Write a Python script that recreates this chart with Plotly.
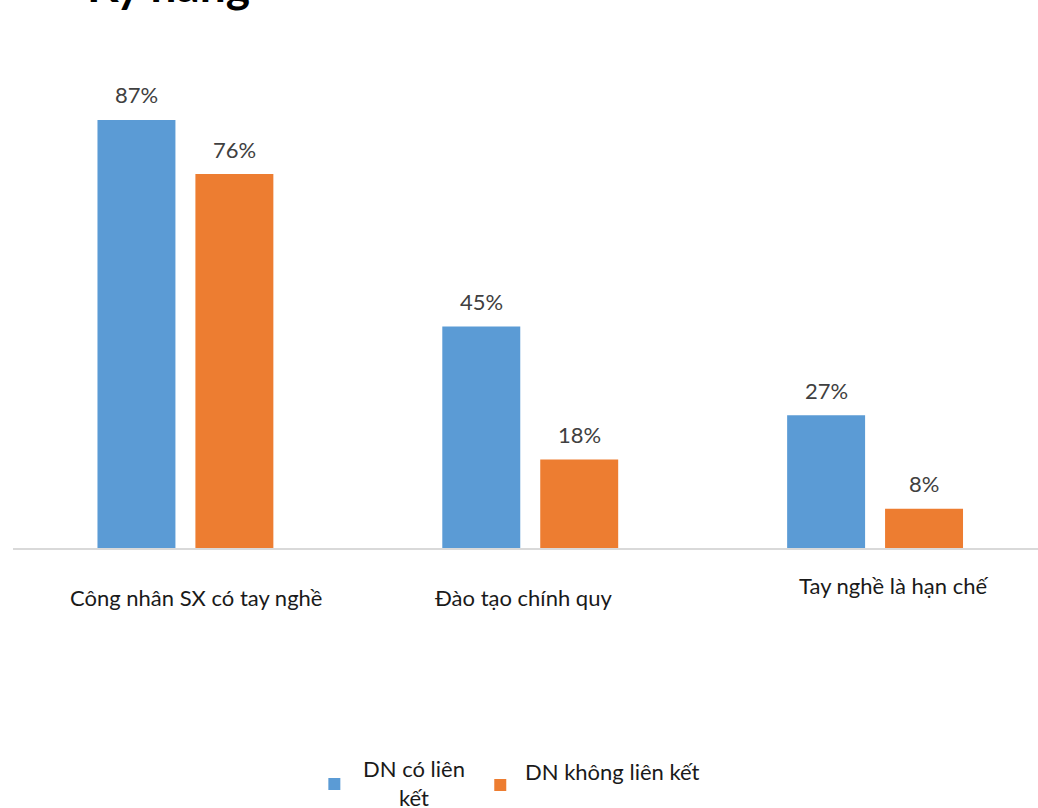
import plotly.graph_objects as go

# Data
categories = ["Công nhân SX có tay nghề", "Đào tạo chính quy", "Tay nghề là hạn chế"]
series_names = ["DN có liên kết", "DN không liên kết"]
linked = [0.87, 0.45, 0.27]
unlinked = [0.76, 0.18, 0.08]
title_text = "Kỹ năng"

BLUE = "#5B9BD5"
ORANGE = "#ED7D31"
FONT = "Lato, 'Open Sans', sans-serif"
FS = 22

W, H = 1038, 808
L, T, B = 12.5, 56, 260
PLOT_W = W - L
PLOT_H = H - T - B


def px(x):
    return (x - L) / PLOT_W


def py(y):
    return (H - B - y) / PLOT_H


fig = go.Figure()
fig.add_trace(go.Bar(x=categories, y=linked, name=series_names[0],
                     marker=dict(color=BLUE, line=dict(width=0))))
fig.add_trace(go.Bar(x=categories, y=unlinked, name=series_names[1],
                     marker=dict(color=ORANGE, line=dict(width=0))))

annotations = []
# value labels above each bar
for vals, shift in ((linked, -49), (unlinked, 49)):
    for cat, v in zip(categories, vals):
        annotations.append(dict(
            x=cat, y=v, xref="x", yref="y", text=f"{v:.0%}", showarrow=False,
            xshift=shift, yshift=25, yanchor="middle",
            font=dict(family=FONT, size=FS, color="#404040")))

# category labels under the axis
cat_label_pos = [(11, 597), (-7, 597), (18, 585)]
for cat, (dx, yy) in zip(categories, cat_label_pos):
    annotations.append(dict(
        x=cat, xref="x", y=py(yy), yref="paper", text=cat, showarrow=False,
        xshift=dx, yanchor="middle",
        font=dict(family=FONT, size=FS, color="#1a1a1a")))

# chart title (sits at the very top edge)
annotations.append(dict(
    x=px(168), y=py(-16), xref="paper", yref="paper", text=f"<b>{title_text}</b>",
    showarrow=False, xanchor="center", yanchor="middle",
    font=dict(family=FONT, size=46, color="#000000")))

# legend
legend_items = [
    (BLUE, 334, 784, series_names[0].replace("liên ", "liên<br>"), 414, 783),
    (ORANGE, 500, 785, series_names[1], 612, 771),
]
shapes = []
for color, sx, sy, label, tx, ty in legend_items:
    shapes.append(dict(type="rect", xref="paper", yref="paper",
                       x0=px(sx - 6), x1=px(sx + 6), y0=py(sy + 6), y1=py(sy - 6),
                       fillcolor=color, line=dict(width=0)))
    annotations.append(dict(
        x=px(tx), y=py(ty), xref="paper", yref="paper", text=label,
        showarrow=False, align="center", xanchor="center", yanchor="middle",
        font=dict(family=FONT, size=FS, color="#1a1a1a")))

fig.update_layout(
    width=W, height=H,
    margin=dict(l=L, r=0, t=T, b=B, pad=0),
    paper_bgcolor="white", plot_bgcolor="white",
    barmode="group", bargap=0.432, bargroupgap=0.204,
    showlegend=False,
    xaxis=dict(range=[-0.5, -0.5 + PLOT_W / 345], showticklabels=False,
               showgrid=False, zeroline=False, showline=True,
               linecolor="#D9D9D9", linewidth=1.5, ticks=""),
    yaxis=dict(range=[0, 1.0], visible=False, showgrid=False, zeroline=False),
    annotations=annotations,
    shapes=shapes,
)

fig.write_html("out.html")
